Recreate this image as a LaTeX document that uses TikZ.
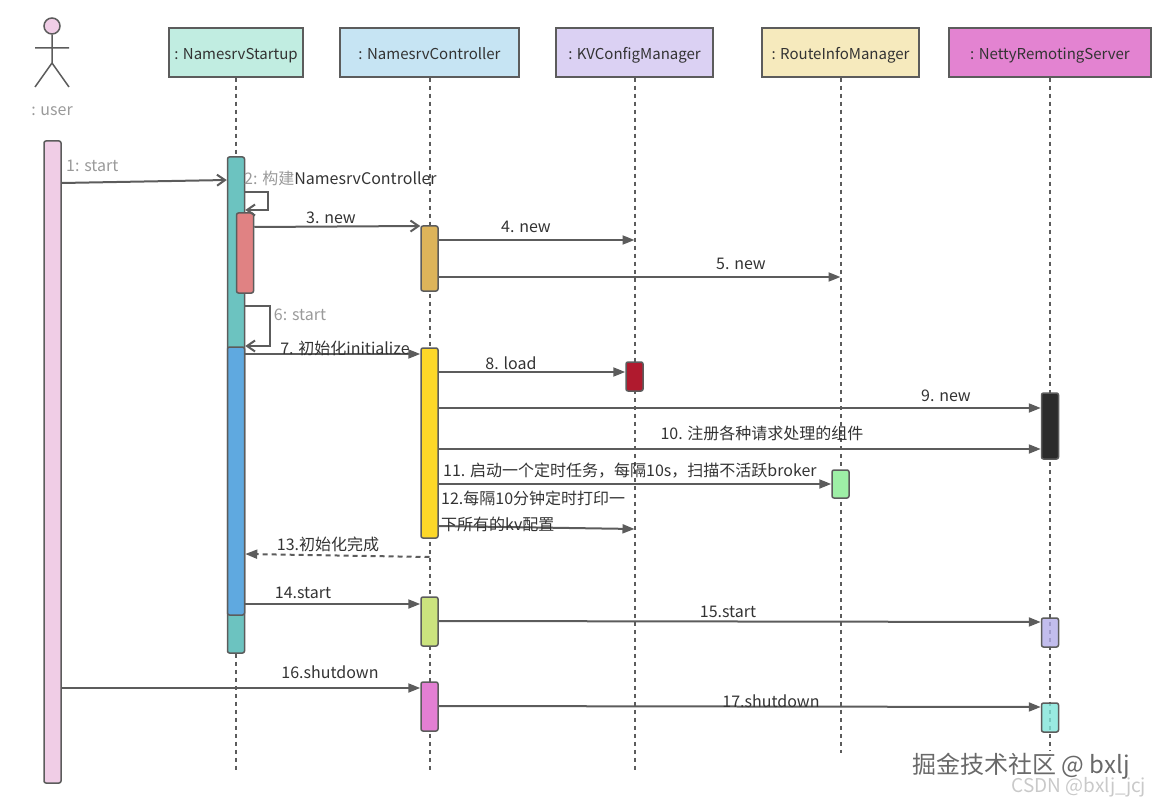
\documentclass[tikz,border=0pt]{standalone}
\usepackage{fontspec}
\setmainfont{Noto Sans CJK SC}
\usetikzlibrary{arrows.meta}
\definecolor{linec}{HTML}{5C5C5C}
\definecolor{txtc}{HTML}{333333}
\definecolor{grayc}{HTML}{9A9A9A}

\begin{document}
\begin{tikzpicture}[x=1pt,y=-1pt,
    font=\fontsize{16}{19}\selectfont, text=txtc,
    head/.style={draw=linec, line width=1.5, minimum height=49, inner sep=0, text height=15, text depth=0, font=\fontsize{15}{18}\selectfont},
    life/.style={draw=linec, line width=2, dash pattern=on 4pt off 4pt},
    bar/.style={draw=linec, line width=1.5, rounded corners=2, minimum width=17, inner sep=0},
    msg/.style={draw=linec, line width=2, -{Triangle[length=12pt,width=9pt]}},
    omsg/.style={draw=linec, line width=2, -{Straight Barb[length=8pt,width=11pt]}},
    ret/.style={msg, dash pattern=on 5pt off 4pt},
    lbl/.style={inner sep=0},
    glbl/.style={inner sep=0, text=grayc}]
\useasboundingbox (0,0) rectangle (1157,805);

% actor
\node[circle, draw=linec, line width=1.5, fill={rgb,255:red,240;green,205;blue,230}, minimum size=16, inner sep=0] (head) at (52,26) {};
\draw[linec, line width=1.5] (head.south) -- (52,63) (35,48) -- (69,48) (35,87) -- (52,63) -- (69,87);
\node[glbl] (userlbl) at (52,111) {: user};

% heads
\node[head, fill={rgb,255:red,193;green,237;blue,225}, minimum width=134] (startup) at (236,52.5) {: NamesrvStartup};
\node[head, fill={rgb,255:red,198;green,228;blue,243}, minimum width=179] (ctrl) at (429.5,52.5) {: NamesrvController};
\node[head, fill={rgb,255:red,219;green,209;blue,243}, minimum width=157] (kv) at (634.5,52.5) {: KVConfigManager};
\node[head, fill={rgb,255:red,246;green,234;blue,189}, minimum width=157] (route) at (840.5,52.5) {: RouteInfoManager};
\node[head, fill={rgb,255:red,227;green,131;blue,209}, minimum width=202] (netty) at (1050,52.5) {: NettyRemotingServer};

% lifelines
\draw[life] (startup.south) -- (startup.south |- 0,772);
\draw[life] (ctrl.south) -- (ctrl.south |- 0,772);
\draw[life] (kv.south) -- (kv.south |- 0,770);
\draw[life] (route.south) -- (route.south |- 0,753);
\draw[life] (netty.south) -- (netty.south |- 0,750);

% activations
\node[bar, fill={rgb,255:red,240;green,205;blue,230}, minimum height=642] (ua) at (52.5,462) {};
\node[bar, fill={rgb,255:red,108;green,195;blue,192}, minimum height=496] (sa) at (startup |- 0,405) {};
\node[bar, fill={rgb,255:red,224;green,130;blue,131}, minimum height=80] (sr) at ([xshift=9]startup |- 0,253) {};
\node[bar, fill={rgb,255:red,95;green,169;blue,224}, minimum height=268] (sb) at (startup |- 0,481) {};
\node[bar, fill={rgb,255:red,221;green,180;blue,90}, minimum height=65] (c1) at (ctrl |- 0,258.5) {};
\node[bar, fill={rgb,255:red,253;green,216;blue,40}, minimum height=190] (c2) at (ctrl |- 0,443) {};
\node[bar, fill={rgb,255:red,176;green,26;blue,46}, minimum height=29] (kvb) at (kv |- 0,376.5) {};
\node[bar, fill={rgb,255:red,43;green,43;blue,43}, minimum height=66] (nb) at (netty |- 0,426) {};
\node[bar, fill={rgb,255:red,158;green,239;blue,166}, minimum height=28] (rg) at (route |- 0,484) {};
\node[bar, fill={rgb,255:red,203;green,227;blue,126}, minimum height=49] (c3) at (ctrl |- 0,621.5) {};
\node[bar, fill={rgb,255:red,179;green,173;blue,232}, fill opacity=0.8, minimum height=29] (np) at (netty |- 0,632.5) {};
\node[bar, fill={rgb,255:red,227;green,127;blue,211}, minimum height=49] (c4) at (ctrl |- 0,706.5) {};
\node[bar, fill={rgb,255:red,127;green,229;blue,217}, fill opacity=0.8, minimum height=29] (nc) at (netty |- 0,717.5) {};

% messages
\draw[omsg] (ua.east |- 0,183) -- (sa.west |- 0,180);
\node[glbl, anchor=west] (l1) at (66,166) {1: start};
\draw[omsg] (sa.east |- 0,192) -- ++(23,0) -- ++(0,18) -- (sa.east |- 0,210);
\node[lbl, anchor=west] (l2) at (244,178) {\textcolor{grayc}{2: 构建}NamesrvController};
\draw[omsg] (sr.east |- 0,227) -- (c1.west |- 0,226);
\node[lbl] (l3) at (331,218) {3. new};
\draw[msg] (c1.east |- 0,240) -- (kv |- 0,240);
\node[lbl] (l4) at (526,227) {4. new};
\draw[msg] (c1.east |- 0,277) -- (route |- 0,277);
\node[lbl] (l5) at (741,264) {5. new};
\draw[omsg] (sa.east |- 0,306) -- ++(25,0) -- ++(0,40) -- (sb.east |- 0,346);
\node[glbl] (l6) at (300,315) {6: start};
\draw[msg] (sb.east |- 0,354) -- (c2.west |- 0,354);
\node[lbl] (l7) at (345,348) {7. 初始化initialize};
\draw[msg] (c2.east |- 0,372) -- (kvb.west |- 0,372);
\node[lbl] (l8) at (511,363) {8. load};
\draw[msg] (c2.east |- 0,408) -- (nb.west |- 0,408);
\node[lbl] (l9) at (946,396) {9. new};
\draw[msg] (c2.east |- 0,449) -- (nb.west |- 0,449);
\node[lbl] (l10) at (762,433) {10. 注册各种请求处理的组件};
\draw[msg] (c2.east |- 0,484) -- (rg.west |- 0,484);
\node[lbl, anchor=west] (l11) at (443,471) {11. 启动一个定时任务，每隔10s，扫描不活跃broker};
\draw[msg] (c2.east |- 0,526) -- (kv |- 0,529);
\node[lbl, anchor=west, align=left, font=\fontsize{16}{26}\selectfont] (l12) at (441,511) {12.每隔10分钟定时打印一\\下所有的kv配置};
\draw[ret] (ctrl |- 0,557) -- (sb.east |- 0,554);
\node[lbl] (l13) at (328,544) {13.初始化完成};
\draw[msg] (sb.east |- 0,604) -- (c3.west |- 0,604);
\node[lbl] (l14) at (303,593) {14.start};
\draw[msg] (c3.east |- 0,621) -- (np.west |- 0,622);
\node[lbl] (l15) at (728,612) {15.start};
\draw[msg] (ua.east |- 0,688) -- (c4.west |- 0,688);
\node[lbl] (l16) at (330,672) {16.shutdown};
\draw[msg] (c4.east |- 0,706) -- (nc.west |- 0,707);
\node[lbl] (l17) at (771,701) {17.shutdown};

% watermark
\node[lbl, text={rgb,255:red,105;green,105;blue,105}, font=\fontsize{24}{28}\selectfont] (wm1) at (1021,766) {掘金技术社区 @ bxlj};
\node[lbl, text={rgb,255:red,201;green,201;blue,201}, font=\fontsize{19}{22}\selectfont] (wm2) at (1079,787) {CSDN @bxlj\_jcj};
\end{tikzpicture}
\end{document}
